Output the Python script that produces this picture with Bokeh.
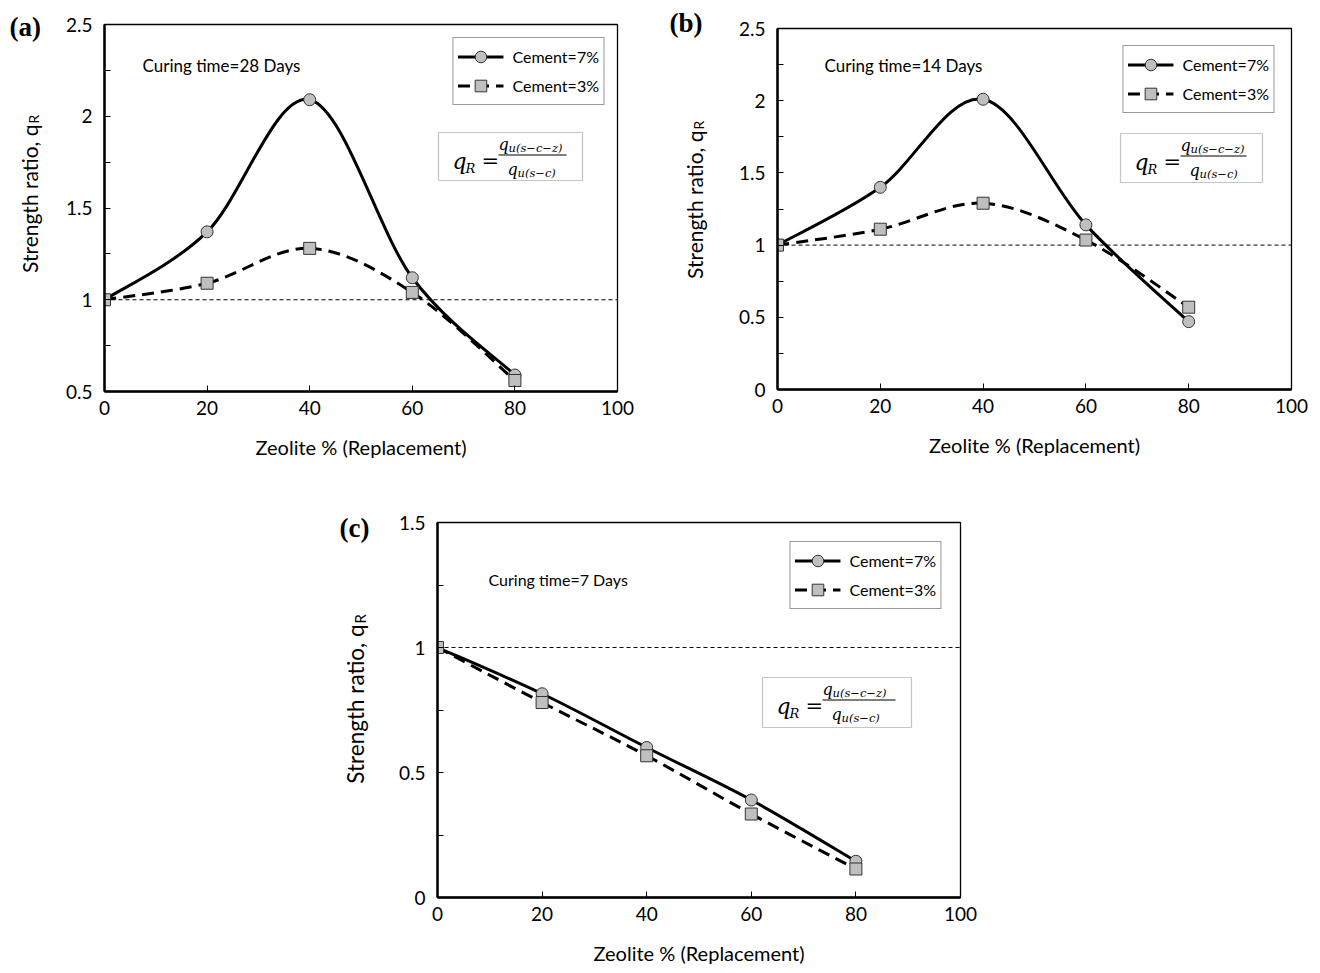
import numpy as np
from bokeh.plotting import figure
from bokeh.models import (Range1d, FixedTicker, Span, Label, BoxAnnotation,
                          Legend, LegendItem, Spacer, ColumnDataSource)
from bokeh.core.properties import value
from bokeh.layouts import row, column
from bokeh.embed import file_html
from bokeh.resources import INLINE

# ---------------- data ----------------
zeolite_pct = [0, 20, 40, 60, 80]
x_ticks = [0, 20, 40, 60, 80, 100]

# (a) curing 28 days
a_cement7 = [1.00, 1.37, 2.09, 1.12, 0.59]
a_cement3 = [1.00, 1.09, 1.28, 1.04, 0.56]
# (b) curing 14 days
b_cement7 = [1.00, 1.40, 2.01, 1.14, 0.47]
b_cement3 = [1.00, 1.11, 1.29, 1.035, 0.57]
# (c) curing 7 days
c_cement7 = [1.00, 0.815, 0.60, 0.39, 0.145]
c_cement3 = [1.00, 0.78, 0.567, 0.334, 0.114]

series_labels = ["Cement=7%", "Cement=3%"]
curing_labels = ["Curing time=28 Days", "Curing time=14 Days", "Curing time=7 Days"]
panel_letters = ["(a)", "(b)", "(c)"]
y_title = "Strength ratio, q"
y_title_sub = "R"
x_title = "Zeolite % (Replacement)"

a_yticks = [0.5, 1, 1.5, 2, 2.5]
a_yminor = [0.75, 1.25, 1.75, 2.25]
b_yticks = [0, 0.5, 1, 1.5, 2, 2.5]
b_yminor = [0.25, 0.75, 1.25, 1.75, 2.25]
c_yticks = [0, 0.5, 1, 1.5]
c_yminor = [0.25, 0.75, 1.25]

FONT = "Lato"
SERIF = "DejaVu Serif"


def bezier_source(xs, ys):
    n = len(xs)
    d = dict(x0=[], y0=[], x1=[], y1=[], cx0=[], cy0=[], cx1=[], cy1=[])
    for i in range(n - 1):
        im = max(i - 1, 0)
        ip = min(i + 2, n - 1)
        d["x0"].append(xs[i]); d["y0"].append(ys[i])
        d["x1"].append(xs[i + 1]); d["y1"].append(ys[i + 1])
        d["cx0"].append(xs[i] + (xs[i + 1] - xs[im]) / 6.0)
        d["cy0"].append(ys[i] + (ys[i + 1] - ys[im]) / 6.0)
        d["cx1"].append(xs[i + 1] - (xs[ip] - xs[i]) / 6.0)
        d["cy1"].append(ys[i + 1] - (ys[ip] - ys[i]) / 6.0)
    return ColumnDataSource(d)


def slabel(p, x, y, text, size, font=FONT, style="normal", align="left",
           baseline="middle", angle=0.0):
    p.add_layout(Label(x=x, y=y, x_units="screen", y_units="screen", text=text,
                       text_font=font, text_font_size=size, text_font_style=style,
                       text_align=align, text_baseline=baseline, angle=angle,
                       text_color="black"))


def formula(p, H, L, T, w, h):
    top = H - T
    p.add_layout(BoxAnnotation(left=L, right=L + w, top=top, bottom=top - h,
                               left_units="screen", right_units="screen",
                               top_units="screen", bottom_units="screen",
                               fill_color="white", fill_alpha=1.0,
                               line_color="#404040", line_width=1.2))
    slabel(p, L + 14, top - 29, "q", "22px", font=SERIF, style="italic")
    slabel(p, L + 27, top - 36, "R", "13px", font=SERIF, style="italic")
    slabel(p, L + 43, top - 28, "=", "21px", font=SERIF)
    p.add_layout(BoxAnnotation(left=L + 60, right=L + w - 16, top=top - 22,
                               bottom=top - 23, left_units="screen",
                               right_units="screen", top_units="screen",
                               bottom_units="screen", fill_color="black",
                               fill_alpha=1.0, line_alpha=0))
    slabel(p, L + 60, top - 12, "q", "16px", font=SERIF, style="italic")
    slabel(p, L + 70, top - 15, "u(s−c−z)", "11.5px", font=SERIF, style="italic")
    slabel(p, L + 69, top - 37, "q", "16px", font=SERIF, style="italic")
    slabel(p, L + 79, top - 40, "u(s−c)", "11.5px", font=SERIF, style="italic")


def side_fig(idx, width, height, lx, ly, tx, ty_end, tsize="21px", ssize="14px"):
    """Narrow figure holding the panel letter and the rotated y title."""
    f = figure(width=width, height=height, x_range=Range1d(0, width),
               y_range=Range1d(0, height), output_backend="svg", title=None,
               toolbar_location=None, x_axis_location=None, y_axis_location=None,
               min_border_left=0, min_border_right=0, min_border_top=0,
               min_border_bottom=0)
    f.grid.visible = False
    f.outline_line_color = None
    f.text(x=[lx], y=[height - ly], text=[panel_letters[idx]],
           text_font=value("Liberation Serif"), text_font_size=value("27px"),
           text_font_style="bold", text_align="left", text_baseline="middle",
           text_color="black")
    f.text(x=[tx], y=[height - ty_end], text=[y_title], angle=np.pi / 2,
           text_font=value(FONT), text_font_size=value(tsize),
           text_align="right", text_baseline="middle", text_color="black")
    f.text(x=[tx + 4], y=[height - ty_end + 1], text=[y_title_sub], angle=np.pi / 2,
           text_font=value(FONT), text_font_size=value(ssize),
           text_align="left", text_baseline="middle", text_color="black")
    return f


def make_panel(idx, ys7, ys3, yr, yticks, yminor, g):
    W = g["ml"] + g["fw"] + g["mr"]
    Ht = g["mt"] + g["fh"] + g["mb"]
    H = g["fh"]
    p = figure(width=W, height=Ht, x_range=Range1d(0, 100), y_range=Range1d(*yr),
               output_backend="svg", toolbar_location=None, title=None,
               min_border_left=g["ml"], min_border_right=g["mr"],
               min_border_top=g["mt"], min_border_bottom=g["mb"])
    p.grid.visible = False
    p.outline_line_color = "black"
    p.outline_line_width = 1.3
    p.background_fill_color = "white"
    p.border_fill_color = "white"

    p.xaxis.ticker = FixedTicker(ticks=x_ticks)
    p.yaxis.ticker = FixedTicker(ticks=yticks, minor_ticks=yminor)
    p.yaxis.major_label_overrides = {t: ("%g" % t) for t in yticks}
    for ax in (p.xaxis, p.yaxis):
        ax.axis_line_width = 2.5
        ax.axis_line_color = "black"
        ax.major_tick_in = 6
        ax.major_tick_out = 0
        ax.minor_tick_in = 6
        ax.minor_tick_out = 0
        ax.major_tick_line_width = 1
        ax.minor_tick_line_width = 1
        ax.major_tick_line_color = "black"
        ax.minor_tick_line_color = "black"
        ax.major_label_text_font = FONT
        ax.major_label_text_font_size = "19px"
        ax.major_label_text_color = "black"
    p.xaxis.minor_tick_line_color = None
    p.xaxis.major_label_standoff = 9
    p.yaxis.major_label_standoff = 12
    p.xaxis.axis_label = x_title
    p.xaxis.axis_label_text_font = FONT
    p.xaxis.axis_label_text_font_size = "20px"
    p.xaxis.axis_label_text_font_style = "normal"
    p.xaxis.axis_label_text_color = "black"
    p.xaxis.axis_label_standoff = 17

    p.add_layout(Span(location=1, dimension="width", line_color="black",
                      line_width=1, line_dash="4 3", level="underlay"))

    s7 = bezier_source(zeolite_pct, ys7)
    s3 = bezier_source(zeolite_pct, ys3)
    b7 = p.bezier(x0="x0", y0="y0", x1="x1", y1="y1", cx0="cx0", cy0="cy0",
                  cx1="cx1", cy1="cy1", source=s7, line_color="black", line_width=3)
    b3 = p.bezier(x0="x0", y0="y0", x1="x1", y1="y1", cx0="cx0", cy0="cy0",
                  cx1="cx1", cy1="cy1", source=s3, line_color="black", line_width=3,
                  line_dash="12 7")
    m7 = p.scatter(zeolite_pct, ys7, marker="circle", size=12, fill_color="#bfbfbf",
                   line_color="#333333", line_width=1)
    m3 = p.scatter(zeolite_pct, ys3, marker="square", size=12, fill_color="#bfbfbf",
                   line_color="#333333", line_width=1)

    legend = Legend(items=[LegendItem(label=series_labels[0], renderers=[b7, m7]),
                           LegendItem(label=series_labels[1], renderers=[b3, m3])],
                    location="top_right", margin=g["lm"],
                    border_line_color="#333333", border_line_width=1.2,
                    background_fill_color="white", background_fill_alpha=1.0,
                    label_text_font=FONT, label_text_font_size="16px",
                    label_text_color="black",
                    glyph_width=46, glyph_height=29, label_height=29,
                    padding=4, spacing=0, label_standoff=9)
    p.add_layout(legend)

    slabel(p, g["cx"], H - g["ct"], curing_labels[idx], g["cs"])
    formula(p, H, g["fx"], g["fy"], g["fwid"], g["fhei"])
    return p


ga = dict(ml=49, fw=513, mr=20, mt=24, fh=367, mb=89, lm=13,
          cx=38, ct=41, cs="17px", fx=334, fy=108, fwid=144, fhei=48)
gb = dict(ml=52, fw=514, mr=20, mt=28, fh=361, mb=91, lm=17,
          cx=47, ct=37, cs="17px", fx=343, fy=105, fwid=142, fhei=49)
gc = dict(ml=52, fw=523, mr=20, mt=42, fh=375, mb=76, lm=19,
          cx=51, ct=57, cs="16px", fx=325, fy=155, fwid=149, fhei=50)

sa = side_fig(0, 55, 480, lx=9, ly=26, tx=29, ty_end=124)
pa = make_panel(0, a_cement7, a_cement3, (0.5, 2.5), a_yticks, a_yminor, ga)
sb = side_fig(1, 88, 480, lx=32, ly=22, tx=57, ty_end=130)
pb = make_panel(1, b_cement7, b_cement3, (0, 2.5), b_yticks, b_yminor, gb)
sc = side_fig(2, 85, 493, lx=39, ly=47, tx=55, ty_end=144, tsize="22.5px", ssize="15px")
pc = make_panel(2, c_cement7, c_cement3, (0, 1.5), c_yticks, c_yminor, gc)

layout = column(row(column(sa), column(pa), column(sb), column(pb)),
                row(Spacer(width=300, height=10), column(sc), column(pc)))

with open("out.html", "w") as f:
    f.write(file_html(layout, INLINE))
